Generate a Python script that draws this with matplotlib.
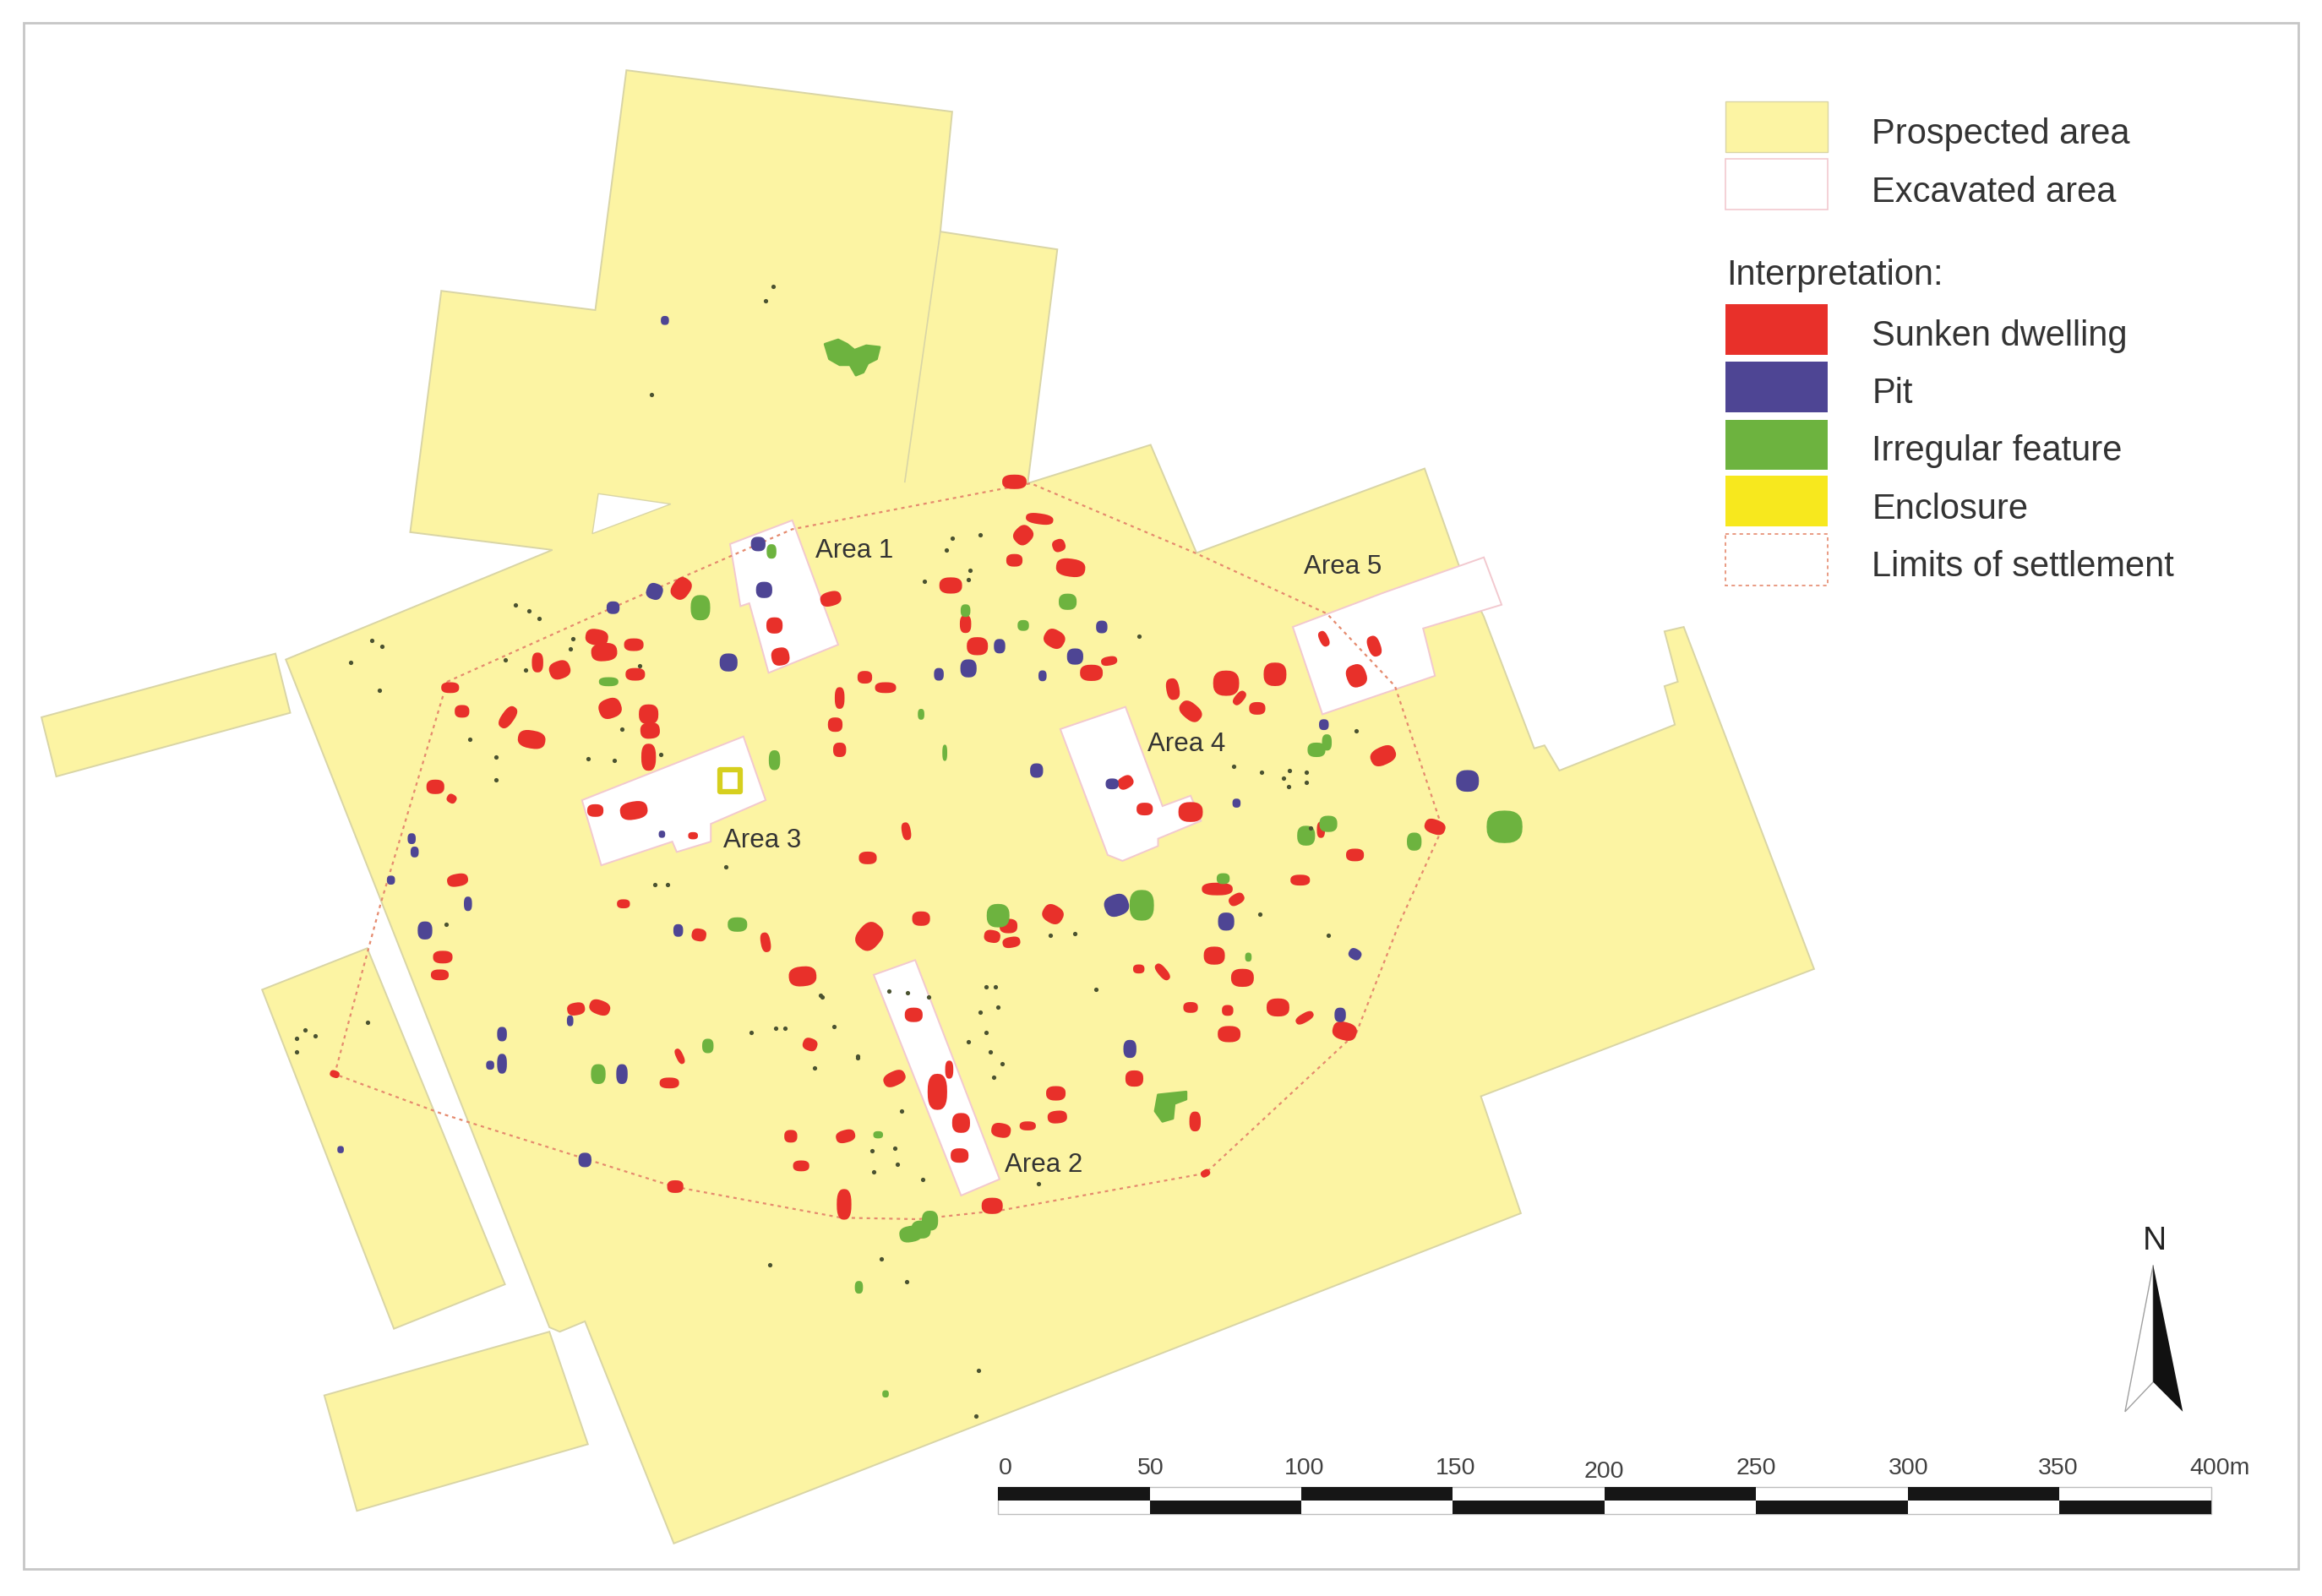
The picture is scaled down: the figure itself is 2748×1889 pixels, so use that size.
import matplotlib
matplotlib.use('Agg')
import matplotlib.pyplot as plt
import matplotlib.patches as patches
import numpy as np

plt.rcParams['font.family'] = ['Liberation Sans', 'DejaVu Sans']

# map coordinates traced from the plan, origin top left
MAIN_AREA = [(423, 48), (643, 76), (635, 157), (714, 169), (694, 327), (777, 301), (808, 374),
             (962, 317), (985, 382), (1002, 417), (1036, 506), (1043, 504), (1053, 521),
             (1131, 490), (1124, 464), (1133, 461), (1124, 427), (1137, 424), (1225, 655),
             (1000, 741), (1027, 820), (455, 1043), (395, 893), (378, 900), (371, 897),
             (193, 446), (373, 372), (277, 360), (298, 197), (402, 210)]
LEFT_STRIP = [(186, 442), (196, 482), (38, 525), (28, 485)]
LEFT_BLOCK = [(248, 641), (341, 868), (266, 898), (177, 669)]
BOTTOM_BLOCK = [(371, 900), (397, 976), (241, 1021), (219, 943)]
HOLE = [(404, 334), (453, 341), (400, 361)]
BLOCK_SEAM = [(635, 157), (611, 326)]

AREA_1 = [(493, 368), (535, 352), (566, 436), (519, 455), (506, 408), (500, 410)]
AREA_2 = [(590, 659), (618, 649), (675, 797), (649, 808)]
AREA_3 = [(393, 541), (502, 498), (517, 541), (480, 557), (480, 569), (457, 576), (454, 569), (406, 585)]
AREA_4 = [(716, 493), (760, 478), (785, 545), (804, 538), (811, 555), (782, 567), (782, 572), (758, 582), (748, 578)]
AREA_5 = [(873, 424), (934, 401), (1002, 377), (1014, 409), (961, 425), (969, 457), (893, 483)]
EXCAVATED = [AREA_1, AREA_2, AREA_3, AREA_4, AREA_5]

LIMITS = [(302, 461), (400, 417), (535, 358), (696, 327), (807, 374), (896, 415), (942, 464),
          (974, 560), (945, 624), (916, 698), (814, 793), (676, 818), (620, 824), (568, 823),
          (455, 802), (299, 753), (226, 726), (237, 685), (257, 611), (302, 461)]

# x, y, width, height, angle (clockwise on the page)
SUNKEN = [
    (460, 398, 14, 10, -55), (561, 405, 13, 8, -15), (523, 423, 10, 9, 0), (527, 444, 11, 10, 80),
    (403, 431, 14, 9, 10), (428, 436, 12, 7, 0), (408, 441, 16, 10, -5), (363, 448, 7, 11, 0),
    (378, 453, 13, 10, -20), (429, 456, 12, 7, 0), (304, 465, 11, 6, 0), (567, 472, 6, 12, 0),
    (312, 481, 9, 7, 0), (343, 485, 15, 7, -55), (412, 479, 14, 11, -20), (438, 483, 12, 11, 0),
    (439, 494, 12, 9, -5), (564, 490, 9, 8, 0), (567, 507, 8, 8, 0), (359, 500, 17, 10, 10),
    (438, 512, 9, 15, 0), (294, 532, 11, 8, 0), (305, 540, 6, 5, 30), (428, 548, 17, 10, -10),
    (402, 548, 10, 7, 0), (468, 565, 6, 4, 0), (309, 595, 13, 7, -10), (421, 611, 8, 5, 0),
    (472, 632, 9, 7, 10), (517, 637, 6, 11, -10), (542, 660, 17, 11, -5), (299, 647, 12, 7, 0),
    (297, 659, 11, 6, 0), (389, 682, 11, 7, -10), (405, 681, 13, 8, 20),
    (685, 326, 15, 8, 0), (702, 351, 17, 6, 8), (691, 362, 11, 11, 45), (715, 369, 8, 7, -20),
    (685, 379, 10, 7, 0), (723, 384, 18, 10, 8), (642, 396, 14, 9, 0), (652, 422, 7, 10, 0),
    (660, 437, 13, 10, 0), (712, 432, 13, 10, 30), (749, 447, 10, 5, -10), (737, 455, 14, 9, 0),
    (584, 458, 9, 7, 0), (598, 465, 13, 6, 0), (792, 466, 8, 12, -10), (828, 462, 16, 14, 0),
    (861, 456, 14, 13, 0), (837, 472, 10, 5, -50), (849, 479, 10, 7, 0), (804, 481, 15, 9, 40),
    (894, 432, 10, 5, 65), (928, 437, 13, 7, 70), (916, 457, 14, 11, 70), (934, 511, 16, 10, -25),
    (760, 529, 10, 7, -30), (773, 547, 10, 7, 0), (804, 549, 15, 11, 0), (612, 562, 11, 5, 80),
    (586, 580, 11, 7, 0), (892, 561, 5, 9, 0), (969, 559, 13, 8, 20), (915, 578, 11, 7, 0),
    (878, 595, 12, 6, 0), (822, 601, 19, 7, 0), (835, 608, 10, 6, -30), (622, 621, 11, 8, 0),
    (587, 633, 18, 13, -50), (681, 626, 11, 8, 0), (711, 618, 13, 10, 30), (670, 633, 10, 7, 10),
    (683, 637, 11, 6, -10), (820, 646, 13, 10, 0), (839, 661, 14, 10, 0), (769, 655, 7, 5, 0),
    (785, 657, 12, 5, 50), (804, 681, 9, 6, 0), (829, 683, 7, 6, 0), (863, 681, 14, 10, 0),
    (617, 686, 11, 8, 0), (881, 688, 12, 5, -30), (908, 697, 15, 10, 15), (830, 699, 14, 9, 0),
    (604, 729, 14, 8, -25), (633, 738, 12, 20, 0), (641, 723, 5, 10, 0), (649, 759, 11, 11, 0),
    (766, 729, 11, 9, 0), (713, 739, 12, 8, 0), (714, 755, 12, 7, -5), (694, 761, 10, 5, 0),
    (676, 764, 12, 8, 10), (807, 758, 7, 11, 0), (648, 781, 11, 8, 0), (670, 815, 13, 9, 0),
    (814, 793, 6, 4, -30), (570, 814, 9, 17, 0), (226, 726, 6, 4, 20), (459, 714, 10, 4, 65),
    (452, 732, 12, 6, 0), (547, 706, 9, 7, 20), (534, 768, 8, 7, 0), (571, 768, 12, 7, -15),
    (541, 788, 10, 6, 0), (456, 802, 10, 7, 0),
]
PITS = [
    (512, 368, 9, 8, 0), (516, 399, 10, 9, 0), (442, 400, 10, 9, 20), (414, 411, 8, 7, 0),
    (492, 448, 11, 10, 0), (278, 567, 5, 6, 0), (280, 576, 5, 6, 0), (264, 595, 5, 5, 0),
    (316, 611, 5, 8, 0), (287, 629, 9, 10, 0), (458, 629, 6, 7, 0), (447, 564, 4, 4, 0),
    (744, 424, 7, 7, 0), (675, 437, 7, 8, 0), (654, 452, 10, 10, 0), (634, 456, 6, 7, 0),
    (726, 444, 10, 9, 0), (704, 457, 5, 6, 0), (700, 521, 8, 8, 0), (751, 530, 8, 6, 0),
    (835, 543, 5, 5, 0), (894, 490, 6, 6, 0), (991, 528, 14, 12, 0), (754, 612, 15, 12, -20),
    (828, 623, 10, 10, 0), (915, 645, 8, 6, 30), (905, 686, 7, 8, 0), (339, 699, 6, 8, 0),
    (339, 719, 6, 11, 0), (331, 720, 5, 5, 0), (420, 726, 7, 11, 0), (395, 784, 8, 8, 0),
    (385, 690, 4, 6, 0), (230, 777, 4, 4, 0), (449, 217, 5, 5, 0), (763, 709, 8, 10, 0),
]
IRREGULAR = [
    (521, 373, 6, 8, 0), (473, 411, 12, 14, 0), (411, 461, 12, 5, 0), (523, 514, 7, 11, 0),
    (498, 625, 12, 8, 0), (652, 413, 6, 7, 0), (721, 407, 11, 9, 0), (691, 423, 7, 6, 0),
    (622, 483, 4, 6, 0), (638, 509, 3, 9, 0), (889, 507, 11, 8, 0), (896, 502, 6, 9, 0),
    (882, 565, 11, 11, 0), (897, 557, 11, 9, 0), (955, 569, 9, 10, 0), (1016, 559, 22, 18, 0),
    (771, 612, 15, 17, 0), (674, 619, 14, 13, 0), (826, 594, 8, 6, 0), (843, 647, 4, 5, 0),
    (404, 726, 9, 11, 0), (478, 707, 7, 8, 0), (593, 767, 6, 4, 0),
    (580, 870, 5, 7, 0), (628, 825, 10, 11, 0), (622, 831, 12, 10, 0), (615, 834, 14, 9, -10),
    (598, 942, 4, 4, 0),
]
IRREGULAR_SHAPES = [
    [(557, 233), (566, 230), (572, 233), (577, 237), (585, 234), (594, 235), (592, 243), (586, 246),
     (583, 252), (578, 254), (574, 247), (567, 247), (560, 243)],
    [(782, 740), (801, 738), (801, 743), (793, 746), (792, 756), (785, 758), (780, 751)],
]
SMALL_FEATURES = [
    (348, 409), (357, 413), (364, 418), (251, 433), (258, 437), (237, 448), (256, 467), (387, 432),
    (385, 439), (341, 446), (355, 453), (432, 450), (317, 500), (335, 512), (335, 527), (397, 513),
    (415, 514), (420, 493), (446, 510), (301, 625), (490, 586), (442, 598), (451, 598), (555, 674),
    (643, 364), (662, 362), (639, 372), (655, 386), (654, 392), (624, 393), (769, 430), (916, 494),
    (833, 518), (852, 522), (871, 521), (882, 522), (867, 526), (882, 529), (870, 532), (885, 560),
    (851, 618), (709, 632), (726, 631), (897, 632), (666, 667), (672, 667), (740, 669), (662, 684),
    (674, 681), (666, 698), (654, 704), (669, 711), (677, 719), (671, 728), (579, 715), (609, 751),
    (589, 778), (604, 776), (606, 787), (590, 792), (623, 797), (701, 800), (595, 851), (612, 866),
    (661, 926), (554, 673), (507, 698), (524, 695), (530, 695), (563, 694), (579, 714), (550, 722),
    (520, 855), (659, 957), (248, 691), (206, 696), (200, 702), (213, 700), (200, 711), (522, 194),
    (517, 204), (440, 267), (600, 670), (613, 671), (627, 674),
]
ENCLOSURE = (493, 528, 14, 15)

LEGEND_TOP = ['Prospected area', 'Excavated area']
LEGEND_BOTTOM = ['Sunken dwelling', 'Pit', 'Irregular feature', 'Enclosure', 'Limits of settlement']
AREA_LABELS = ['Area 1', 'Area 2', 'Area 3', 'Area 4', 'Area 5']
AREA_LABEL_POS = [(577, 372), (705, 787), (515, 568), (801, 503), (907, 383)]
SCALE_LABELS = ['0', '50', '100', '150', '200', '250', '300', '350', '400m']
SCALE_LABEL_X = [679, 777, 881, 983, 1083, 1186, 1289, 1390, 1499]

YELLOW = '#FCF4A3'
AREA_EDGE = '#D9D5A6'
PINK_EDGE = '#F2C9CF'
RED = '#E8302A'
BLUE = '#4E4594'
GREEN = '#6DB33F'
GOLD = '#F7E81E'
DASH = '#E58A6E'
TEXT = '#333333'


def blob(x, y, w, h, angle, n=2.6):
    # squarish rounded outline, closer to the digitised features than a true ellipse
    t = np.linspace(0, 2 * np.pi, 28, endpoint=False)
    px = np.sign(np.cos(t)) * np.abs(np.cos(t)) ** (2 / n) * w * 1.1 / 2
    py = np.sign(np.sin(t)) * np.abs(np.sin(t)) ** (2 / n) * h * 1.22 / 2
    a = np.radians(angle)
    return np.column_stack((x + px * np.cos(a) - py * np.sin(a), y + px * np.sin(a) + py * np.cos(a)))


def draw_features(ax, features, color, z=4):
    for x, y, w, h, angle in features:
        ax.add_patch(patches.Polygon(blob(x, y, w, h, angle), closed=True, facecolor=color,
                                     edgecolor='none', zorder=z))


fig = plt.figure(figsize=(27.48, 18.9), dpi=100)
ax = fig.add_axes([0, 0, 1, 1])
ax.set_xlim(0, 1568)
ax.set_ylim(1078.5, 0)
ax.axis('off')

ax.add_patch(patches.Rectangle((16, 16), 1536, 1044, fill=False, edgecolor='#C6C6C6', linewidth=2))

for poly in [MAIN_AREA, LEFT_STRIP, LEFT_BLOCK, BOTTOM_BLOCK]:
    ax.add_patch(patches.Polygon(poly, closed=True, facecolor=YELLOW, edgecolor=AREA_EDGE, linewidth=1.4, zorder=1))
ax.add_patch(patches.Polygon(HOLE, closed=True, facecolor='white', edgecolor=AREA_EDGE, linewidth=1.0, zorder=2))
ax.plot(*zip(*BLOCK_SEAM), color=AREA_EDGE, linewidth=1.2, zorder=2)

for poly in EXCAVATED:
    ax.add_patch(patches.Polygon(poly, closed=True, facecolor='white', edgecolor=PINK_EDGE, linewidth=1.4, zorder=2))

ax.plot(*zip(*LIMITS), color=DASH, linewidth=1.6, linestyle=(0, (1.8, 2.2)), zorder=3)

draw_features(ax, SUNKEN, RED)
draw_features(ax, PITS, BLUE)
draw_features(ax, IRREGULAR, GREEN)
for shape in IRREGULAR_SHAPES:
    ax.add_patch(patches.Polygon(shape, closed=True, facecolor=GREEN, edgecolor=GREEN, linewidth=2,
                                 joinstyle='round', zorder=4))
ax.scatter(*zip(*SMALL_FEATURES), s=14, color='#4A5230', linewidths=0, zorder=4)

ex, ey, ew, eh = ENCLOSURE
ax.add_patch(patches.Rectangle((ex - ew / 2, ey - eh / 2), ew, eh, fill=False, edgecolor='#D6CF1E',
                               linewidth=4.5, joinstyle='round', zorder=4))

for label, (x, y) in zip(AREA_LABELS, AREA_LABEL_POS):
    ax.text(x, y, label, fontsize=22.5, color=TEXT, ha='center', va='center', zorder=5)

# legend
sw_x, sw_w, sw_h = 1165, 69, 34
ax.add_patch(patches.Rectangle((sw_x, 69), sw_w, sw_h, facecolor=YELLOW, edgecolor=AREA_EDGE, linewidth=1))
ax.add_patch(patches.Rectangle((sw_x, 108), sw_w, sw_h, facecolor='white', edgecolor=PINK_EDGE, linewidth=1.2))
for label, y in zip(LEGEND_TOP, [91, 130]):
    ax.text(1264, y, label, fontsize=30, color=TEXT, va='center')
ax.text(1166, 186, 'Interpretation:', fontsize=30, color=TEXT, va='center')

for color, y in zip([RED, BLUE, GREEN, GOLD], [206, 245, 284, 322]):
    ax.add_patch(patches.Rectangle((sw_x, y), sw_w, sw_h, facecolor=color, edgecolor='none'))
ax.add_patch(patches.Rectangle((sw_x, 361), sw_w, 35, fill=False, edgecolor=DASH, linewidth=1.2,
                               linestyle=(0, (2.5, 2.5))))
for label, y in zip(LEGEND_BOTTOM, [227, 266, 305, 344, 383]):
    ax.text(1264, y, label, fontsize=30, color=TEXT, va='center')

# scale bar, alternating blocks every 50 m
bar_x0, bar_x1 = 674, 1493
seg = (bar_x1 - bar_x0) / 8
ax.add_patch(patches.Rectangle((bar_x0, 1005), bar_x1 - bar_x0, 18, facecolor='white', edgecolor='#BDBDBD', linewidth=1))
for i in range(8):
    y = 1005 if i % 2 == 0 else 1014
    ax.add_patch(patches.Rectangle((bar_x0 + i * seg, y), seg, 9, facecolor='#161616', edgecolor='none'))
for label, x in zip(SCALE_LABELS, SCALE_LABEL_X):
    y = 994 if label == '200' else 992
    ax.text(x, y, label, fontsize=20.5, color='#404040', ha='center', va='center')

# north arrow
ax.add_patch(patches.Polygon([(1454, 855), (1454, 934), (1435, 954)], closed=True, facecolor='white',
                             edgecolor='#A0A0A0', linewidth=1))
ax.add_patch(patches.Polygon([(1454, 855), (1454, 934), (1474, 954)], closed=True, facecolor='#111111',
                             edgecolor='none'))
ax.text(1455, 838, 'N', fontsize=28, color='#222222', ha='center', va='center')

fig.savefig('out.png', dpi=100)
plt.close(fig)
